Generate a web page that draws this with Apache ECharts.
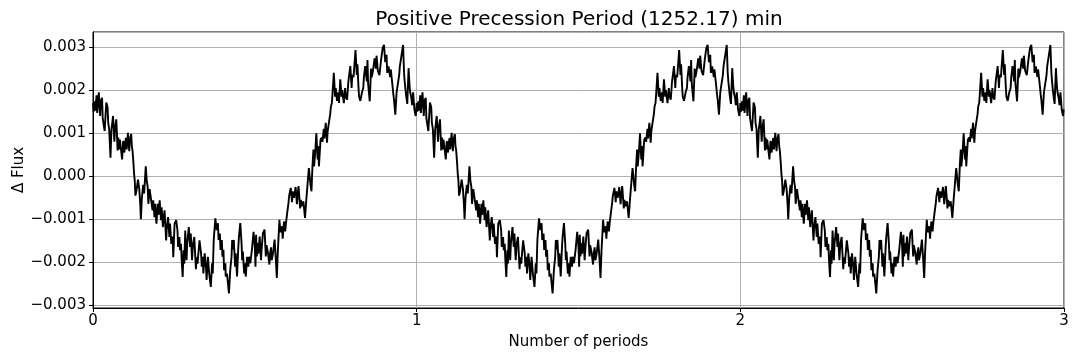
<!DOCTYPE html>
<html>
<head>
    <meta charset="utf-8">
    <title>Positive Precession Period</title>
    <script src="https://cdn.jsdelivr.net/npm/echarts@6/dist/echarts.min.js"></script>
    <style>
        html, body { margin: 0; padding: 0; background: #fff; }
        #main { width: 1080px; height: 360px; }
    </style>
</head>
<body>
<div id="main"></div>
<script>
// one folded period; the figure repeats it for periods 0, 1, 2
var phase = [
    0.000, 0.002, 0.005, 0.007, 0.011, 0.013, 0.018, 0.022, 0.024, 0.028, 0.030, 0.036, 0.041, 0.045, 0.047, 0.050,
    0.054, 0.057, 0.062, 0.066, 0.068, 0.072, 0.076, 0.078, 0.081, 0.083, 0.090, 0.093, 0.097, 0.099, 0.102, 0.104,
    0.108, 0.112, 0.114, 0.118, 0.120, 0.122, 0.125, 0.127, 0.129, 0.131, 0.134, 0.139, 0.143, 0.146, 0.148, 0.151,
    0.155, 0.158, 0.163, 0.166, 0.169, 0.171, 0.175, 0.180, 0.184, 0.186, 0.190, 0.192, 0.196, 0.200, 0.202, 0.206,
    0.210, 0.212, 0.216, 0.221, 0.226, 0.228, 0.232, 0.236, 0.238, 0.242, 0.246, 0.248, 0.252, 0.257, 0.261, 0.263,
    0.267, 0.269, 0.272, 0.274, 0.277, 0.280, 0.282, 0.285, 0.289, 0.291, 0.296, 0.300, 0.302, 0.306, 0.309, 0.313,
    0.315, 0.318, 0.320, 0.323, 0.329, 0.334, 0.336, 0.339, 0.341, 0.345, 0.349, 0.351, 0.355, 0.359, 0.364, 0.368,
    0.370, 0.373, 0.378, 0.382, 0.386, 0.388, 0.392, 0.394, 0.398, 0.400, 0.403, 0.405, 0.409, 0.410, 0.414, 0.420,
    0.424, 0.428, 0.430, 0.432, 0.435, 0.439, 0.441, 0.445, 0.449, 0.451, 0.455, 0.459, 0.461, 0.463, 0.465, 0.467,
    0.470, 0.472, 0.476, 0.480, 0.482, 0.486, 0.491, 0.496, 0.500, 0.502, 0.504, 0.506, 0.509, 0.511, 0.515, 0.519,
    0.521, 0.525, 0.530, 0.534, 0.536, 0.540, 0.545, 0.547, 0.550, 0.552, 0.556, 0.561, 0.565, 0.568, 0.571, 0.576,
    0.579, 0.584, 0.586, 0.590, 0.594, 0.596, 0.600, 0.604, 0.606, 0.611, 0.615, 0.617, 0.621, 0.626, 0.630, 0.632,
    0.635, 0.640, 0.642, 0.646, 0.650, 0.655, 0.659, 0.664, 0.667, 0.672, 0.675, 0.678, 0.681, 0.683, 0.687, 0.690,
    0.694, 0.696, 0.698, 0.703, 0.707, 0.709, 0.713, 0.715, 0.719, 0.723, 0.725, 0.729, 0.733, 0.735, 0.738, 0.740,
    0.744, 0.748, 0.750, 0.754, 0.758, 0.760, 0.764, 0.768, 0.770, 0.775, 0.779, 0.781, 0.785, 0.789, 0.795, 0.799,
    0.801, 0.805, 0.811, 0.815, 0.817, 0.820, 0.822, 0.826, 0.831, 0.835, 0.837, 0.841, 0.844, 0.846, 0.848, 0.850,
    0.855, 0.859, 0.861, 0.865, 0.870, 0.874, 0.876, 0.880, 0.885, 0.890, 0.895, 0.899, 0.903, 0.907, 0.909, 0.913,
    0.918, 0.920, 0.924, 0.928, 0.930, 0.934, 0.938, 0.942, 0.946, 0.948, 0.952, 0.958, 0.961, 0.963, 0.967, 0.971,
    0.975, 0.978, 0.980, 0.984, 0.986, 0.989, 0.993, 0.997, 0.999
];
// delta flux in units of 1e-3
var dFluxMilli = [
    1.70, 1.50, 1.74, 1.52, 1.88, 1.47, 1.95, 1.40, 1.75, 1.82, 1.35, 1.05, 1.71, 1.60, 1.24, 1.10,
    0.43, 1.08, 1.40, 0.80, 1.10, 1.32, 0.60, 0.90, 0.62, 0.85, 0.39, 0.82, 0.55, 0.78, 0.89, 0.62,
    1.01, 0.58, 0.85, 0.98, 0.70, 0.60, 0.30, 0.05, -0.10, -0.45, -0.35, -0.08, -0.30, -0.65, -1.00, -0.50,
    -0.20, -0.40, 0.23, -0.10, -0.25, -0.64, -0.30, -0.28, -0.79, -0.56, -0.95, -0.64, -1.10, -0.64, -0.90, -0.56,
    -1.02, -0.72, -1.18, -0.79, -1.49, -1.20, -0.95, -1.41, -1.10, -1.57, -1.40, -1.88, -1.10, -1.02, -1.26, -1.64,
    -1.41, -1.72, -1.57, -1.95, -2.34, -1.72, -2.03, -1.26, -1.95, -1.57, -1.18, -1.64, -1.33, -1.95, -1.57, -1.41,
    -1.72, -2.16, -1.88, -2.03, -1.49, -1.80, -2.10, -1.87, -2.26, -1.79, -2.10, -2.41, -1.87, -2.26, -2.57, -2.02,
    -2.26, -1.48, -0.98, -1.25, -1.09, -1.48, -1.33, -1.71, -1.48, -1.87, -1.71, -2.18, -2.02, -2.33, -2.26, -2.72,
    -2.18, -1.87, -1.48, -1.70, -1.48, -2.10, -1.79, -2.33, -1.64, -1.40, -1.09, -1.56, -1.95, -1.75, -2.00, -2.26,
    -2.02, -2.33, -1.87, -2.10, -1.87, -2.02, -1.71, -1.29, -1.64, -2.10, -1.36, -1.86, -1.55, -1.80, -1.40, -1.95,
    -1.70, -1.32, -1.24, -1.86, -1.60, -1.75, -2.05, -1.80, -1.65, -1.95, -1.80, -1.47, -1.94, -2.36, -1.75, -1.01,
    -1.30, -1.16, -1.45, -1.05, -1.28, -1.10, -0.85, -0.62, -0.46, -0.27, -0.60, -0.35, -0.50, -0.25, -0.65, -0.45,
    -0.23, -0.75, -0.55, -0.70, -0.58, -0.97, -0.55, -0.08, 0.19, -0.20, -0.35, 0.23, 0.62, 0.23, 0.60, 1.00,
    0.39, 0.70, 0.23, 0.85, 0.90, 0.80, 1.10, 0.88, 1.24, 0.78, 1.05, 1.25, 1.45, 1.62, 1.70, 1.92,
    2.40, 1.85, 2.05, 1.75, 1.95, 1.70, 2.25, 1.85, 2.00, 1.70, 2.05, 1.85, 1.78, 2.20, 2.56, 2.05,
    2.35, 2.30, 2.93, 2.35, 2.60, 2.10, 1.85, 1.75, 1.95, 2.05, 2.30, 2.56, 2.35, 2.20, 2.70, 2.15,
    1.74, 2.50, 2.30, 2.45, 2.74, 2.50, 2.80, 2.45, 2.35, 2.70, 2.98, 3.05, 2.65, 2.82, 2.40, 2.55,
    2.30, 2.48, 2.20, 1.90, 1.78, 1.43, 1.95, 2.15, 2.35, 2.55, 2.75, 3.05, 2.40, 2.20, 1.90, 1.68,
    2.51, 2.10, 1.95, 1.80, 1.65, 1.95, 1.55, 1.40, 1.55
];
var periodOffsets = [0, 1, 2];
var xTickLabels = ['0', '1', '2', '3'];

var seriesData = [];
periodOffsets.forEach(function (k) {
    for (var i = 0; i < phase.length; i++) {
        seriesData.push([k + phase[i], dFluxMilli[i] / 1000]);
    }
});

var chart = echarts.init(document.getElementById('main'));
var font = 'DejaVu Sans';

var option = {
    animation: false,
    title: {
        text: 'Positive Precession Period (1252.17) min',
        left: 574,
        textAlign: 'center',
        top: 5,
        textStyle: { fontFamily: font, fontSize: 20, fontWeight: 'normal', color: '#000' }
    },
    // y axis title placed by hand, the axis name kept drifting left of where matplotlib puts it
    graphic: [{
        type: 'text',
        x: 19,
        y: 170,
        rotation: Math.PI / 2,
        style: {
            text: 'Δ Flux',
            fontFamily: font,
            fontSize: 15,
            fill: '#000',
            align: 'center',
            verticalAlign: 'middle'
        }
    }],
    grid: {
        left: 93, right: 16, top: 32, bottom: 52,
        outerBoundsMode: 'none',
        show: true, borderColor: '#000', borderWidth: 1, backgroundColor: 'transparent'
    },
    xAxis: {
        type: 'value',
        min: 0, max: 3, interval: 1,
        name: 'Number of periods',
        nameLocation: 'middle',
        nameGap: 27,
        nameTextStyle: { fontFamily: font, fontSize: 15, color: '#000' },
        axisLine: { show: true, onZero: false, lineStyle: { color: '#000', width: 1 } },
        axisTick: { show: true, length: 4, lineStyle: { color: '#000' } },
        axisLabel: {
            margin: 6, fontFamily: font, fontSize: 15, color: '#000',
            formatter: function (v) { return xTickLabels[Math.round(v)]; }
        },
        splitLine: { show: true, lineStyle: { color: '#b0b0b0', width: 1 } }
    },
    yAxis: {
        type: 'value',
        min: -0.00306, max: 0.00335,
        splitNumber: 6,
        axisLine: { show: true, onZero: false, lineStyle: { color: '#000', width: 1 } },
        axisTick: { show: true, length: 4, lineStyle: { color: '#000' } },
        axisLabel: {
            margin: 7, fontFamily: font, fontSize: 15, color: '#000',
            showMinLabel: false, showMaxLabel: false,
            formatter: function (v) {
                var s = Math.abs(v).toFixed(3);
                return (v < -1e-9 ? '\u2212' : '') + s;
            }
        },
        splitLine: { show: true, lineStyle: { color: '#b0b0b0', width: 1 } }
    },
    series: [{
        type: 'line',
        data: seriesData,
        showSymbol: false,
        lineStyle: { color: '#000', width: 1.9 }
    }]
};
chart.setOption(option);
</script>
</body>
</html>
